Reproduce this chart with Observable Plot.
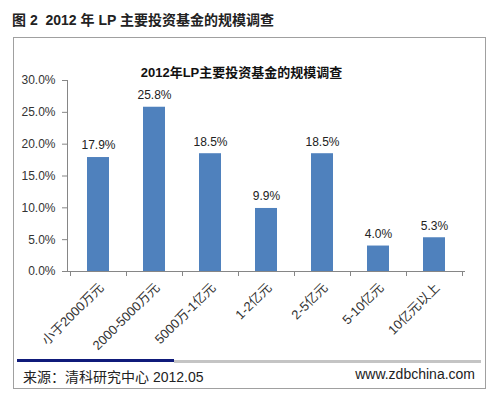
<!DOCTYPE html>
<html>
<head>
<meta charset="utf-8">
<script src="https://cdn.jsdelivr.net/npm/d3@7"></script>
<script src="https://cdn.jsdelivr.net/npm/@observablehq/plot@0.6"></script>
<style>
  html, body { margin: 0; padding: 0; background: #fff; }
  #wrap { position: relative; width: 500px; height: 399px; overflow: hidden;
    font-family: "Liberation Sans", Arial, "Noto Sans CJK SC", sans-serif; }
  #fig { position: absolute; left: 12px; top: 9px; font-size: 14px; font-weight: bold; color: #222; white-space: pre; }
  #box { position: absolute; left: 13px; top: 37px; width: 473px; height: 352px; border: 1px solid #a0a0a0; box-sizing: border-box; }
  #title { position: absolute; left: 0; width: 483px; top: 62px; text-align: center; font-size: 13px; font-weight: bold; color: #111; }
  #lineA { position: absolute; left: 17px; top: 359px; width: 157px; height: 3px; background: #0f1a7a; }
  #lineB { position: absolute; left: 174px; top: 360px; width: 307px; height: 3px; background: #c4c4c4; }
  #src { position: absolute; left: 23px; top: 366px; font-size: 14px; color: #222; }
  #web { position: absolute; right: 25px; top: 366px; font-size: 14px; color: #222; }
  #chart { position: absolute; left: 0; top: 0; }
</style>
</head>
<body>
<div id="wrap">
  <div id="box"></div>
  <div id="chart"></div>
  <div id="fig">图 2  2012 年 LP 主要投资基金的规模调查</div>
  <div id="title">2012年LP主要投资基金的规模调查</div>
  <div id="lineA"></div>
  <div id="lineB"></div>
  <div id="src">来源：清科研究中心 2012.05</div>
  <div id="web">www.zdbchina.com</div>
</div>
<script>
const categories = ["小于2000万元", "2000-5000万元", "5000万-1亿元", "1-2亿元", "2-5亿元", "5-10亿元", "10亿元以上"];
const values = [17.9, 25.8, 18.5, 9.9, 18.5, 4.0, 5.3];
const yTicks = [0, 5, 10, 15, 20, 25, 30];

const data = categories.map((c, i) => ({category: c, value: values[i]}));
const axisColor = "#868686";
const fontFamily = '"Liberation Sans", Arial, "Noto Sans CJK SC", sans-serif';

function boundaryTicks(len) {
  return function(...args) {
    const scales = args.find(a => a && typeof a.x === "function" && typeof a.y === "function");
    const x = scales.x;
    const bw = typeof x.bandwidth === "function" ? x.bandwidth() : 0;
    const centers = categories.map(c => x(c) + bw / 2);
    const step = centers[1] - centers[0];
    const bounds = centers.map(c => c - step / 2).concat([centers[centers.length - 1] + step / 2]);
    const y0 = scales.y(0);
    const g = d3.create("svg:g").attr("stroke", axisColor).attr("stroke-width", 1);
    for (const b of bounds) {
      g.append("line").attr("x1", Math.round(b) + 0.5).attr("x2", Math.round(b) + 0.5)
        .attr("y1", y0).attr("y2", y0 + len);
    }
    return g.node();
  };
}

const chart = Plot.plot({
  width: 500,
  height: 399,
  marginLeft: 67,
  marginRight: 35,
  marginTop: 80,
  marginBottom: 128,
  style: { fontFamily, fontSize: "12px", color: "#333", background: "transparent" },
  x: { domain: categories, paddingInner: 0.61, paddingOuter: 0.305, label: null },
  y: { domain: [0, 30], label: null },
  marks: [
    Plot.barY(data, { x: "category", y: "value", fill: "#4f81bd" }),
    Plot.text(data, { x: "category", y: "value", text: d => d.value.toFixed(1) + "%", dy: -12, fontSize: 12, fill: "#222" }),
    Plot.axisY(yTicks, { tickSize: 5, tickPadding: 7, tickFormat: d => d.toFixed(1) + "%", stroke: axisColor, fill: "#333", fontSize: 12 }),
    Plot.axisX({ tickSize: 0, tickRotate: -45, tickPadding: 14, dx: 3, fill: "#333", fontSize: 13 }),
    Plot.ruleY([0], { stroke: axisColor }),
    Plot.frame({ anchor: "left", stroke: axisColor }),
    boundaryTicks(5)
  ]
});
document.getElementById("chart").appendChild(chart);
</script>
</body>
</html>
